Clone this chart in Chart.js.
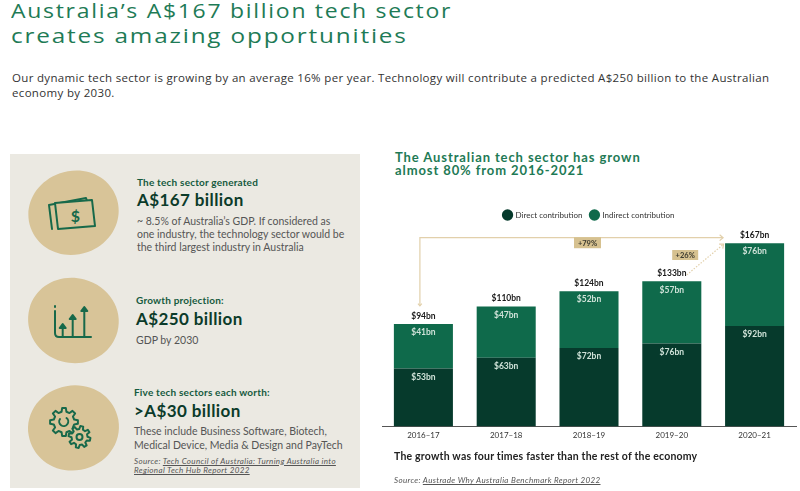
<!DOCTYPE html>
<html><head><meta charset="utf-8">
<script src="https://cdn.jsdelivr.net/npm/chart.js@4.4.0/dist/chart.umd.min.js"></script>
<style>
html,body{margin:0;padding:0;background:#fff;width:800px;height:491px;overflow:hidden;}
.t{position:absolute;white-space:nowrap;font-family:Lato,'Noto Sans',sans-serif;line-height:1.2;}
.os{font-family:'Open Sans','Noto Sans',sans-serif;line-height:1.362;}
.title{left:11px;font-size:20px;color:#1e7b56;letter-spacing:1.5px;transform-origin:0 50%;}
.sub{left:12px;font-size:11.5px;color:#333;letter-spacing:0.33px;}
.hd{font-size:10px;font-weight:700;color:#155a3e;letter-spacing:0.2px;}
.big{font-size:17px;font-weight:700;color:#0b3b2a;letter-spacing:0.4px;}
.body{font-size:10.5px;color:#555;}
.src{font-size:8px;font-style:italic;color:#555;letter-spacing:0.35px;}
.src u{text-decoration:underline;}
#panel{position:absolute;left:0;top:0;}
#chartwrap{position:absolute;left:378px;top:203px;}
</style></head>
<body>
<div class="t os title" style="top:-3px;transform:scaleX(1.148)">Australia’s A$167 billion tech sector</div>
<div class="t os title" style="top:22px;transform:scaleX(1.215)">creates amazing opportunities</div>
<div class="t os sub" style="top:69.5px">Our dynamic tech sector is growing by an average 16% per year. Technology will contribute a predicted A$250 billion to the Australian</div>
<div class="t os sub" style="top:84.5px">economy by 2030.</div>

<svg id="panel" width="370" height="491" xmlns="http://www.w3.org/2000/svg">
  <rect x="10" y="154" width="350" height="334" fill="#ebe9e2"/>
  <g id="blobs" fill="#d8c498"></g>
  <g id="icons" fill="none" stroke="#17694a" stroke-width="2" stroke-linecap="round" stroke-linejoin="round"></g>
</svg>

<div class="t hd" style="left:137px;top:176px">The tech sector generated</div>
<div class="t big" style="left:137px;top:190px">A$167 billion</div>
<div class="t body" style="left:137px;top:215px">~ 8.5% of Australia’s GDP. If considered as</div>
<div class="t body" style="left:137px;top:228px">one industry, the technology sector would be</div>
<div class="t body" style="left:137px;top:240.5px">the third largest industry in Australia</div>

<div class="t hd" style="left:136px;top:294px">Growth projection:</div>
<div class="t big" style="left:136px;top:308.5px">A$250 billion</div>
<div class="t body" style="left:136px;top:334px">GDP by 2030</div>

<div class="t hd" style="left:134px;top:386px">Five tech sectors each worth:</div>
<div class="t big" style="left:134px;top:401px">&gt;A$30 billion</div>
<div class="t body" style="left:134px;top:425.3px">These include Business Software, Biotech,</div>
<div class="t body" style="left:134px;top:438.6px">Medical Device, Media &amp; Design and PayTech</div>
<div class="t src" style="left:134px;top:456.5px">Source: <u>Tech Council of Australia: Turning Australia into</u></div>
<div class="t src" style="left:134px;top:466.2px"><u>Regional Tech Hub Report 2022</u></div>

<div class="t" style="left:395px;top:149.5px;font-size:13px;font-weight:700;color:#1e7a55;letter-spacing:0.9px">The Australian tech sector has grown</div>
<div class="t" style="left:395px;top:163.2px;font-size:13px;font-weight:700;color:#1e7a55;letter-spacing:0.9px">almost 80% from 2016-2021</div>

<div id="chartwrap"><canvas id="c" width="422" height="250" style="width:422px;height:250px"></canvas></div>

<div class="t" style="left:394px;top:449.6px;font-size:10.5px;font-weight:700;color:#222;letter-spacing:0.2px">The growth was four times faster than the rest of the economy</div>
<div class="t src" style="left:394px;top:476.2px">Source: <u>Austrade Why Australia Benchmark Report 2022</u></div>

<script>
// ---- data ----
const categories = ['2016–17', '2017–18', '2018–19', '2019–20', '2020–21'];
const direct = [53, 63, 72, 76, 92];
const indirect = [41, 47, 52, 57, 76];
const totals = [94, 110, 124, 133, 167];
const seriesNames = ['Direct contribution', 'Indirect contribution'];
const growthLabels = ['+79%', '+26%'];

// ---- decorative panel (blobs + icons) ----
const NS = 'http://www.w3.org/2000/svg';
function el(tag, attrs, parent){ const e=document.createElementNS(NS,tag); for(const k in attrs) e.setAttribute(k,attrs[k]); parent.appendChild(e); return e; }
function blob(cx,cy,rr,rb,rl,rt){
  const k=0.56;
  return `M${cx+rr},${cy} C${cx+rr},${cy+rb*k} ${cx+rr*k},${cy+rb} ${cx},${cy+rb} C${cx-rl*k},${cy+rb} ${cx-rl},${cy+rb*k} ${cx-rl},${cy} C${cx-rl},${cy-rt*k} ${cx-rl*k},${cy-rt} ${cx},${cy-rt} C${cx+rr*k},${cy-rt} ${cx+rr},${cy-rt*k} ${cx+rr},${cy} Z`;
}
const blobs = document.getElementById('blobs');
el('path',{d:blob(73.5,212.5,45.5,42,45.5,41.5),transform:'rotate(-20 73.5 212.5)'},blobs);
el('path',{d:blob(73.5,320,45.5,43,45.5,42),transform:'rotate(15 73.5 320)'},blobs);
el('path',{d:blob(73.5,427.5,45.5,43,45.5,42),transform:'rotate(-10 73.5 427.5)'},blobs);

const icons = document.getElementById('icons');
// money icon
el('path',{d:'M52,229 L49,205 L86,198 L87,201',},icons);
el('path',{d:'M55,203 L92,200 L95,226 L58,229 Z',fill:'#d8c498'},icons);
const dollar = el('text',{x:75.5,y:221.5,'text-anchor':'middle','font-family':'Lato, sans-serif','font-weight':'700','font-size':'16',fill:'#17694a',stroke:'none'},icons);
dollar.textContent='$';
// growth icon
el('path',{d:'M55,306 L55,307'},icons);
el('path',{d:'M55,311 L55,333 Q55,337 59,337 L91,337'},icons);
[[62.7,325],[72.7,316],[84.3,308]].forEach(([x,t])=>{
  el('path',{d:`M${x},337 L${x},${t+2}`},icons);
  el('path',{d:`M${x-3},${t+3} L${x},${t-1} L${x+3},${t+3} Z`,fill:'#17694a'},icons);
});
// gears
function gear(cx,cy,ro,ri,n){
  const step=Math.PI*2/n; let d='';
  for(let i=0;i<n;i++){
    const a=i*step - Math.PI/2;
    const pts=[[a-step*0.3,ri],[a-step*0.17,ro],[a+step*0.17,ro],[a+step*0.3,ri]];
    pts.forEach(([ang,r],j)=>{ d+=(i===0&&j===0?'M':'L')+(cx+r*Math.cos(ang)).toFixed(2)+','+(cy+r*Math.sin(ang)).toFixed(2)+' '; });
  }
  return d+'Z';
}
el('path',{d:gear(64,422,14,10.5,8)},icons);
el('path',{d:'M60,419 A4.5,4.5 0 1 0 66.5,418'},icons);
el('path',{d:gear(79.5,437,11,8,8),fill:'#d8c498',transform:'rotate(12 79.5 437)'},icons);
el('circle',{cx:79.5,cy:437,r:3},icons);

// ---- chart ----
const ARROW_TOP = 173; // value level of the growth bracket
const tan = '#e2d0ab';
function chevron(ctx, x, y, ang, s){
  ctx.beginPath();
  ctx.moveTo(x - s*Math.cos(ang-0.7), y - s*Math.sin(ang-0.7));
  ctx.lineTo(x, y);
  ctx.lineTo(x - s*Math.cos(ang+0.7), y - s*Math.sin(ang+0.7));
  ctx.stroke();
}
function badge(ctx, cx, cy, w, h, text){
  ctx.fillStyle = '#d6c190';
  ctx.fillRect(cx-w/2, cy-h/2, w, h);
  ctx.fillStyle = '#3b392e';
  ctx.font = 'bold 7.5px Lato';
  ctx.textAlign='center'; ctx.textBaseline='middle';
  ctx.fillText(text, cx, cy+0.5);
}
const labelPlugin = {
  id:'barLabels',
  afterDatasetsDraw(chart){
    const {ctx, scales:{x,y}} = chart;
    const m0 = chart.getDatasetMeta(0), m1 = chart.getDatasetMeta(1);
    ctx.save();
    ctx.textAlign='center'; ctx.textBaseline='middle';
    ctx.font='bold 8.5px Lato';
    ctx.fillStyle='#cfe2d8';
    m0.data.forEach((b,i)=>ctx.fillText('$'+direct[i]+'bn', b.x, b.y+8.5));
    m1.data.forEach((b,i)=>ctx.fillText('$'+indirect[i]+'bn', b.x, b.y+8.5));
    ctx.fillStyle='#1b1b1b';
    m1.data.forEach((b,i)=>ctx.fillText('$'+totals[i]+'bn', b.x, b.y-8));

    // growth bracket 2016-17 -> 2020-21
    const ly = y.getPixelForValue(ARROW_TOP);
    const x0 = m1.data[0].x - 3.5;
    const b4 = m1.data[4];
    const xr = b4.x - b4.width/2 - 2;
    ctx.strokeStyle = tan; ctx.lineWidth = 1.2;
    ctx.beginPath();
    ctx.moveTo(x0, m1.data[0].y - 18);
    ctx.lineTo(x0, ly); ctx.lineTo(xr, ly);
    ctx.stroke();
    chevron(ctx, xr, ly, 0, 4.5);
    chevron(ctx, x0, m1.data[0].y - 18, Math.PI/2, 3);
    badge(ctx, x.getPixelForValue(2) - 1.5, ly + 5, 27, 11, growthLabels[0]);

    // dotted 2019-20 -> 2020-21
    const b3 = m1.data[3];
    const sx = b3.x + 15, sy = b3.y - 6.5;
    const ex = b4.x - b4.width/2 - 1.5, ey = b4.y + 1;
    ctx.setLineDash([1.5,1.5]);
    ctx.beginPath(); ctx.moveTo(sx, sy); ctx.lineTo(ex, ey); ctx.stroke();
    ctx.setLineDash([]);
    chevron(ctx, ex, ey, Math.atan2(ey-sy, ex-sx), 4.5);
    badge(ctx, (sx+ex)/2 - 20, (sy+ey)/2 - 4.5, 26, 10, growthLabels[1]);
    ctx.restore();
  }
};

new Chart(document.getElementById('c'), {
  type:'bar',
  data:{
    labels: categories,
    datasets:[
      {label:seriesNames[0], data:direct, backgroundColor:'#063a2c', stack:'s'},
      {label:seriesNames[1], data:indirect, backgroundColor:'#0f6a4b', stack:'s'}
    ]
  },
  options:{
    responsive:false, animation:false,
    layout:{padding:{left:4,right:4,top:0,bottom:9}},
    datasets:{bar:{barPercentage:0.713, categoryPercentage:1}},
    plugins:{
      legend:{position:'top', labels:{usePointStyle:true, pointStyle:'circle', boxWidth:8, boxHeight:8, padding:8, color:'#333', font:{family:'Lato', size:8}}},
      tooltip:{enabled:false}
    },
    scales:{
      x:{stacked:true, grid:{display:false, drawTicks:false}, border:{display:true, color:'#555', width:1},
         ticks:{color:'#333', font:{family:'Lato', size:8}, padding:4}},
      y:{stacked:true, display:false, min:0, max:181}
    }
  },
  plugins:[labelPlugin]
});
</script>
</body></html>
